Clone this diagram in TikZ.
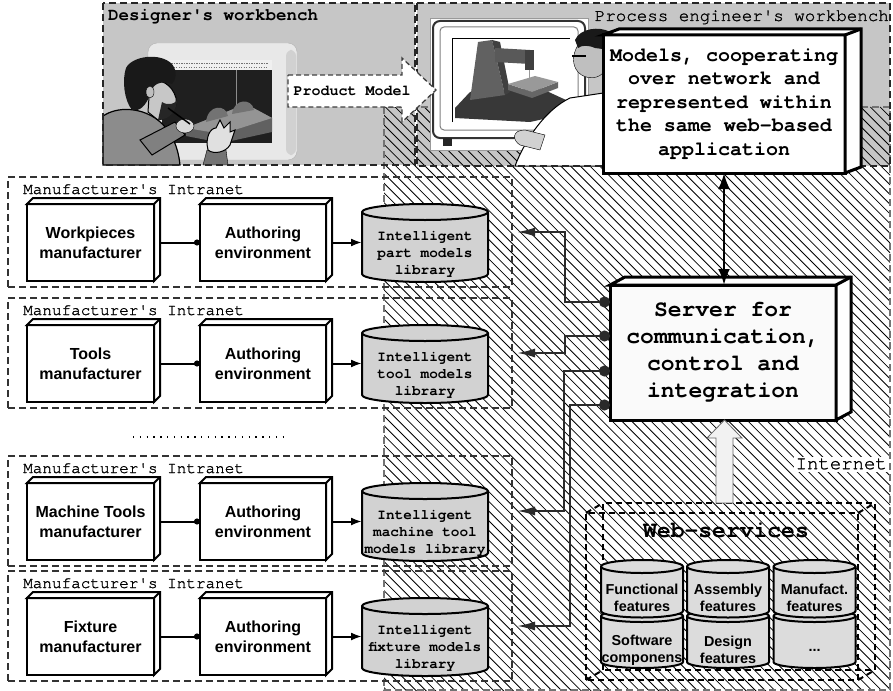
\documentclass[tikz,border=0pt]{standalone}
\usepackage{fontspec}
\setmainfont{Liberation Sans}
\newfontfamily\courfont{TeX Gyre Cursor}
\newfontfamily\courmedium{TeX Gyre Cursor}[FakeBold=1.2]
\usetikzlibrary{arrows.meta}

\definecolor{benchgray}{HTML}{C6C6C6}
\definecolor{cylgray}{HTML}{D2D2D2}
\definecolor{wsgray}{HTML}{DCDCDC}
\definecolor{srvfill}{HTML}{FAFAFA}
\definecolor{linkgray}{HTML}{2A2A2A}

% top and right faces of a raised box node
\newcommand\boxfaces[4]{%
  \draw[line width=#4, fill=white, line join=miter] (#1.north west) -- ++(#2,#3)
    -- ([shift={(#2,#3)}]#1.north east) -- ([shift={(#2,#3)}]#1.south east)
    -- (#1.south east) -- (#1.north east) -- cycle;
  \draw[line width=#4] (#1.north east) -- ++(#2,#3);
}
% upright cylinder: centre x, top-ellipse y, bottom-ellipse y, x radius, y radius, fill
\newcommand\cylinderbody[6]{%
  \filldraw[line width=2pt, fill=#6] (#1-#4,#2) -- (#1-#4,#3)
    arc[start angle=180, end angle=360, x radius=#4, y radius=#5] -- (#1+#4,#2)
    arc[start angle=0, end angle=180, x radius=#4, y radius=#5] -- cycle;
  \draw[line width=2pt] (#1-#4,#2) arc[start angle=180, end angle=360, x radius=#4, y radius=#5];
}

\tikzset{
  dashedge/.style={line width=2pt, dash pattern=on 7pt off 4pt},
  benchedge/.style={draw=black!85, dashedge},
  monolabel/.style={font=\courmedium\fontsize{16}{19}\selectfont, inner sep=0pt},
  benchlabel/.style={font=\courmedium\fontsize{17.5}{20}\selectfont, inner sep=0pt},
  flatbox/.style={draw, fill=white, line width=2pt, outer sep=0pt, inner sep=0pt,
    minimum width=127pt, minimum height=77pt, align=center,
    font=\bfseries\fontsize{16}{20}\selectfont},
  cyllabel/.style={inner sep=0pt, outer sep=0pt, minimum width=126pt, align=center,
    font=\courfont\bfseries\fontsize{14.4}{17}\selectfont},
  wslabel/.style={inner sep=0pt, align=center, font=\bfseries\fontsize{14.4}{17}\selectfont},
  bigbox/.style={draw, line width=3pt, outer sep=0pt, inner sep=0pt, align=center},
  feed/.style={line width=2pt, -{Circle[length=6pt]}},
  publish/.style={line width=2pt, -{Latex[length=11pt,width=8pt]}},
  srvlink/.style={line width=2pt, draw=linkgray, {Circle[length=11pt]}-{Latex[length=18pt,width=9pt]}},
  wsedge/.style={line width=2pt, dash pattern=on 6pt off 4pt},
}

% one manufacturer's intranet row: id, top edge (y down), maker text, library text
\newcommand\intranetrow[4]{%
  \node[draw=black!80, dashedge, minimum width=504pt, minimum height=110pt, outer sep=0pt] (i#1) at (260,-#2-55) {};
  \node[monolabel, anchor=base west] (l#1) at (23,-#2-17) {Manufacturer's Intranet};
  \node[flatbox] (m#1) at (90.5,-#2-65.5) {#3};
  \boxfaces{m#1}{6}{6}{2pt}
  \node[flatbox, minimum width=126pt] (a#1) at (263,-#2-65.5) {Authoring\\environment};
  \boxfaces{a#1}{6}{6}{2pt}
  \cylinderbody{425}{-#2-35}{-#2-97}{63}{8}{cylgray}
  \node[cyllabel] (c#1) at (425,-#2-77) {#4};
  \draw[feed] ([xshift=6pt]m#1.east) -- (a#1.west);
  \draw[publish] ([xshift=6pt]a#1.east) -- (a#1.east -| c#1.west);
}

\begin{document}
\begin{tikzpicture}[x=1pt, y=1pt]
\useasboundingbox (0,0) rectangle (893,-690);
\fill[white] (0,0) rectangle (893,-690);

% workbench panels
\fill[benchgray] (103,-3) rectangle (415,-165);
\fill[benchgray] (417,-3) rectangle (890,-166);

% Internet area: hatching and border
\begin{scope}
  \clip (384,-107) rectangle (890,-690);
  \foreach \k in {0,...,118} {
    \draw[line width=0.8pt] ({-216+9.7*\k},-107) -- ++(600,-600);
  }
\end{scope}
\draw[black!55, line width=1.5pt, dash pattern=on 7pt off 4pt] (384,-107) rectangle (890,-690);

% designer: monitor
\draw[draw=black!30, fill=black!9, rounded corners=9pt] (148,-43) rectangle (297,-160);
\fill[black!18, rounded corners=6pt] (286,-50) rectangle (296,-155);
\fill[black!88] (162,-60) rectangle (272,-143);
\fill[black!6] (162,-60) rectangle (272,-70);
\draw[black!55, line width=0.8pt, dash pattern=on 1.5pt off 1pt] (166,-63.5) -- (268,-63.5);
\draw[black!55, line width=0.8pt, dash pattern=on 1pt off 1.5pt] (166,-67) -- (268,-67);
\draw[black!45, line width=0.7pt] (236,-70) -- (236,-112);
\fill[black!62] (186,-128) -- (246,-104) -- (272,-118) -- (272,-132) -- (222,-143) -- (186,-136) -- cycle;
\fill[black!42] (186,-128) -- (246,-104) -- (272,-118) -- (222,-134) -- cycle;
\fill[black!55] (206,-122) .. controls (208,-104) and (226,-104) .. (228,-116) -- cycle;
\fill[black!55] (232,-114) .. controls (234,-98) and (252,-98) .. (254,-110) -- cycle;

% designer: figure
\filldraw[fill=black!45, draw=black, line width=1.2pt] (103,-165) -- (103,-116)
  .. controls (118,-106) and (140,-108) .. (155,-118)
  .. controls (170,-128) and (178,-145) .. (180,-165) -- cycle;
\filldraw[fill=black!22, draw=black, line width=1pt] (150,-82)
  .. controls (160,-78) and (172,-84) .. (176,-98)
  .. controls (178,-108) and (170,-118) .. (158,-120) -- (148,-112) -- cycle;
\fill[black!85] (162,-102) .. controls (168,-106) and (175,-104) .. (177,-100)
  .. controls (177,-110) and (170,-120) .. (158,-120) -- cycle;
\fill[black!90] (126,-68) .. controls (132,-56) and (160,-52) .. (172,-64)
  .. controls (178,-72) and (176,-80) .. (172,-84)
  .. controls (160,-80) and (152,-84) .. (150,-95)
  .. controls (146,-105) and (140,-112) .. (132,-110)
  .. controls (124,-100) and (122,-80) .. cycle;
\filldraw[fill=black!25, draw=black] (150,-92) ellipse [x radius=4, y radius=6];
\filldraw[fill=black!50, draw=black, line width=1pt] (140,-140) -- (175,-122) -- (185,-135) -- (152,-155) -- cycle;
\filldraw[fill=black!15, draw=black] (185,-126) ellipse [x radius=9, y radius=7];
\draw[black, line width=1.5pt] (168,-108) -- (190,-124);
\filldraw[fill=black!55, draw=black] (203,-165) -- (207,-150) -- (226,-150) -- (228,-165) -- cycle;
\filldraw[fill=black!12, draw=black, line width=1pt] (208,-150)
  .. controls (205,-138) and (210,-128) .. (216,-128) -- (220,-120) -- (224,-128)
  -- (230,-122) -- (230,-132) -- (235,-130) -- (230,-145)
  .. controls (226,-152) and (214,-155) .. cycle;

% process engineer: monitor with machine tool
\filldraw[fill=white, draw=black!40] (430,-18) rectangle (588,-150);
\draw[black!80, line width=2pt, rounded corners=7pt] (433,-21) rectangle (585,-138);
\draw[black!50, line width=1pt, rounded corners=4pt] (440,-27) rectangle (578,-130);
\draw[black, line width=1pt] (452,-122) -- (452,-39) -- (570,-39);
\fill[black!85] (443,-138) rectangle (452,-146);
\fill[black!78] (455,-108) -- (470,-92) -- (540,-88) -- (566,-100) -- (566,-114) -- (530,-122) -- (455,-118) -- cycle;
\fill[black!62] (470,-100) -- (478,-42) -- (492,-40) -- (505,-95) -- cycle;
\fill[black!75] (492,-40) -- (500,-42) -- (510,-92) -- (505,-95) -- cycle;
\fill[black!65] (495,-48) -- (530,-50) -- (530,-64) -- (495,-62) -- cycle;
\fill[black!75] (525,-50) rectangle (534,-70);
\draw[black!40] (529,-70) -- (529,-78);
\fill[black!60] (508,-84) -- (532,-92) -- (558,-82) -- (558,-88) -- (532,-98) -- (508,-90) -- cycle;
\fill[black!40] (508,-84) -- (535,-76) -- (558,-82) -- (532,-92) -- cycle;

% process engineer: figure
\filldraw[fill=white, draw=black, line width=1pt] (515,-166)
  .. controls (525,-140) and (545,-110) .. (570,-98) -- (610,-92) -- (610,-166) -- cycle;
\filldraw[fill=black!18, draw=black] (520,-145) .. controls (512,-140) and (512,-130) .. (525,-130)
  -- (545,-135) -- (540,-150) -- cycle;
\filldraw[fill=black!25, draw=black] (578,-45) .. controls (572,-55) and (572,-65) .. (578,-72)
  .. controls (585,-80) and (600,-80) .. (605,-70) -- (605,-40) -- cycle;
\fill[black!90] (575,-40) .. controls (580,-28) and (600,-26) .. (610,-32) -- (610,-50)
  -- (595,-48) .. controls (588,-45) and (582,-45) .. (578,-48) -- cycle;
\draw[black, line width=1.2pt] (572,-56) -- (586,-56);

% workbench borders and titles
\draw[benchedge] (103,-3) rectangle (415,-165);
\draw[benchedge] (417,-3) rectangle (890,-166);
\node[benchlabel, font=\courfont\bfseries\fontsize{17.5}{20}\selectfont, anchor=base west] (dwb) at (108,-21) {Designer's workbench};
\node[benchlabel, anchor=base east] (pwb) at (889,-21) {Process engineer's workbench};

% product model hand-over
\filldraw[fill=white, draw=black!75, line width=1.3pt, dash pattern=on 5pt off 3pt]
  (288,-75) -- (402,-75) -- (402,-58) -- (436,-90) -- (402,-122) -- (402,-107) -- (288,-107) -- cycle;
\node[font=\courfont\bfseries\fontsize{15}{18}\selectfont, inner sep=0pt] (pm) at (352,-91) {Product Model};

% shared model view
\node[bigbox, fill=white, minimum width=242pt, minimum height=138pt,
  font=\courfont\bfseries\fontsize{20}{23.5}\selectfont] (mdl) at (724,-104)
  {Models, cooperating\\over network and\\represented within\\the same web-based\\application};
\boxfaces{mdl}{16}{6}{3pt}

% server
\node[bigbox, fill=srvfill, minimum width=226pt, minimum height=135pt,
  font=\courfont\bfseries\fontsize{23}{27}\selectfont] (srv) at (723,-352.5)
  {Server for\\communication,\\control and\\integration};
\boxfaces{srv}{15}{8}{3pt}

\draw[line width=2.5pt, {Latex[length=16pt,width=12pt]}-{Latex[length=16pt,width=12pt]}]
  (mdl.south) -- (mdl.south |- srv.north);

% manufacturers
\intranetrow{1}{177}{Workpieces\\manufacturer}{Intelligent\\part models\\library}
\intranetrow{2}{298}{Tools\\manufacturer}{Intelligent\\tool models\\library}
\intranetrow{3}{456}{Machine Tools\\manufacturer}{Intelligent\\machine tool\\models library}
\intranetrow{4}{571}{Fixture\\manufacturer}{Intelligent\\fixture models\\library}

\draw[line width=1.4pt, dash pattern=on 1.4pt off 5.4pt] (133,-437) -- (285,-437);

% server links to the libraries
\draw[srvlink] ([yshift=50.5pt]srv.west) -| ([xshift=53pt]i1.east) -- ([xshift=5pt]i1.east);
\draw[srvlink] ([yshift=16.5pt]srv.west) -| ([xshift=53pt]i2.east) -- ([xshift=5pt]i2.east);
\draw[srvlink] ([yshift=-18.5pt]srv.west) -| ([xshift=52pt]i3.east) -- ([xshift=5pt]i3.east);
\draw[srvlink] ([yshift=-52.5pt]srv.west) -| ([xshift=58pt]i4.east) -- ([xshift=5pt]i4.east);

% web services
\node[minimum width=272pt, minimum height=167pt, inner sep=0pt, outer sep=0pt] (wsf) at (722,-596.5) {};
\draw[wsedge] (wsf.south west) rectangle (wsf.north east);
\draw[wsedge] ([shift={(17,10)}]wsf.south west) rectangle ([shift={(17,10)}]wsf.north east);
\foreach \a in {north west, north east, south west, south east}
  \draw[wsedge] (wsf.\a) -- ++(17,10);
\node[font=\courfont\bfseries\fontsize{23}{26}\selectfont, inner sep=0pt] (ws) at (726,-530) {Web-services};

\cylinderbody{642}{-616}{-662}{41}{6}{wsgray}
\cylinderbody{728}{-616}{-662}{41}{6}{wsgray}
\cylinderbody{814.5}{-616}{-662}{41}{6}{wsgray}
\node[wslabel] (f4) at (642,-650) {Software\\componens};
\node[wslabel] (f5) at (728,-650) {Design\\features};
\node[wslabel] (f6) at (814.5,-650) {...};
\cylinderbody{642}{-566.5}{-611}{41}{6.5}{wsgray}
\cylinderbody{728}{-566.5}{-611}{41}{6.5}{wsgray}
\cylinderbody{814.5}{-566.5}{-611}{41}{6.5}{wsgray}
\node[wslabel] (f1) at (642,-597.5) {Functional\\features};
\node[wslabel] (f2) at (728,-597.5) {Assembly\\features};
\node[wslabel] (f3) at (814.5,-597.5) {Manufact.\\features};

% web services feeding the server
\filldraw[fill=black!5, draw=black!60, line width=0.8pt] (716,-503) -- (716,-438) -- (707,-438)
  -- (srv.south -| 724.5,0) -- (742,-438) -- (733,-438) -- (733,-503) -- cycle;

\node[font=\courmedium\fontsize{19}{22}\selectfont, fill=white, inner sep=2pt, anchor=east] (inet) at (889,-464) {Internet};

\end{tikzpicture}
\end{document}
